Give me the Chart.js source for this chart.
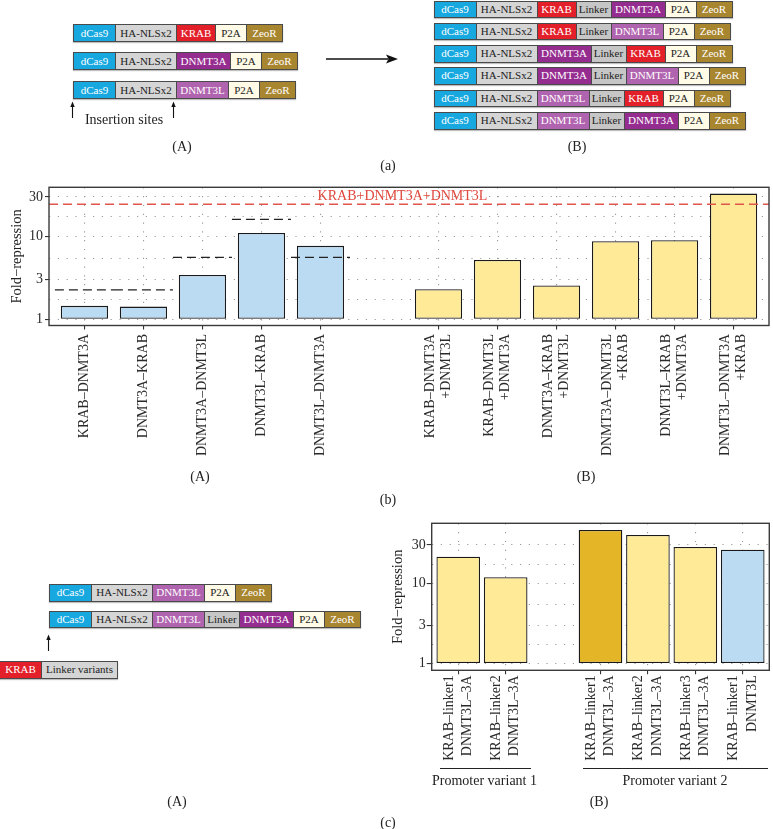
<!DOCTYPE html>
<html><head><meta charset="utf-8">
<script src="https://cdn.jsdelivr.net/npm/chart.js@4.4.1/dist/chart.umd.min.js"></script>
<style>
html,body{margin:0;padding:0;background:#fff;}
#page{position:relative;width:773px;height:829px;overflow:hidden;font-family:'Liberation Serif','Times New Roman',serif;color:#222;}
.row{position:absolute;display:flex;box-sizing:border-box;border:1px solid #4a4a4a;box-shadow:0 1px 1px rgba(0,0,0,0.25);}
.seg{box-sizing:border-box;height:100%;text-align:center;font-size:11px;white-space:nowrap;overflow:hidden;border-left:1px solid #4a4a4a;}
.seg:first-child{border-left:none;}
.lbl{position:absolute;transform:translate(-50%,-50%);font-size:14px;white-space:nowrap;color:#222;z-index:3;}
.hl{position:absolute;height:0;border-top:1.3px solid #222;z-index:3;}
canvas{position:absolute;}
svg{position:absolute;left:0;top:0;z-index:2;}
</style></head>
<body><div id="page">
<canvas id="cb" width="773" height="285" style="left:0;top:180px;width:773px;height:285px"></canvas>
<canvas id="cc" width="393" height="257" style="left:380px;top:515px;width:393px;height:257px"></canvas>
<svg width="773" height="829" viewBox="0 0 773 829">
  <line x1="326" y1="59" x2="388" y2="59" stroke="#111" stroke-width="1.3"/>
  <polygon points="386,54.5 398,59 386,63.5 388.5,59" fill="#111"/>
  <line x1="72.5" y1="118" x2="72.5" y2="105" stroke="#111" stroke-width="1.1"/>
  <polygon points="70.3,107 72.5,101.5 74.7,107" fill="#111"/>
  <line x1="173.5" y1="118" x2="173.5" y2="105" stroke="#111" stroke-width="1.1"/>
  <polygon points="171.3,107 173.5,101.5 175.7,107" fill="#111"/>
  <line x1="48.5" y1="651" x2="48.5" y2="638" stroke="#111" stroke-width="1.1"/>
  <polygon points="46.3,640 48.5,634.5 50.7,640" fill="#111"/>
</svg>
</div>
<script>
// ===================== DATA =====================
// (b) pairwise fusions (A) and fusions + third effector (B)
const pairLabels = ['KRAB–DNMT3A', 'DNMT3A–KRAB', 'DNMT3A–DNMT3L', 'DNMT3L–KRAB', 'DNMT3L–DNMT3A'];
const pairValues = [1.45, 1.42, 3.43, 11.0, 7.7];
const pairExpected = [2.26, 2.26, 5.6, 16.1, 5.6];
const tripleLabels = [['KRAB–DNMT3A', '+DNMT3L'], ['KRAB–DNMT3L', '+DNMT3A'], ['DNMT3A–KRAB', '+DNMT3L'],
                      ['DNMT3A–DNMT3L', '+KRAB'], ['DNMT3L–KRAB', '+DNMT3A'], ['DNMT3L–DNMT3A', '+KRAB']];
const tripleValues = [2.30, 5.2, 2.55, 8.75, 9.0, 32.9];
const tripleReference = 24.5;
const tripleReferenceLabel = 'KRAB+DNMT3A+DNMT3L';

// (c)(B) linker variants
const linkerLabels = [['KRAB–linker1', 'DNMT3L–3A'], ['KRAB–linker2', 'DNMT3L–3A'],
                      ['KRAB–linker1', 'DNMT3L–3A'], ['KRAB–linker2', 'DNMT3L–3A'],
                      ['KRAB–linker3', 'DNMT3L–3A'], ['KRAB–linker1', 'DNMT3L']];
const linkerValues = [21.4, 11.9, 46.0, 39.9, 28.3, 26.2];
const linkerPromoter = [1, 1, 2, 2, 2, 2];
const linkerKind = ['fusion', 'fusion', 'best', 'fusion', 'fusion', 'pair'];
const promoterNames = ['Promoter variant 1', 'Promoter variant 2'];

// log-axis ticks
const foldTicks = [1, 3, 10, 30];
const foldMinorTicks = [1.73, 5.48, 17.3, 54.8];

// construct diagrams
const singleConstructs = [
  ['dCas9', 'HA-NLSx2', 'KRAB', 'P2A', 'ZeoR'],
  ['dCas9', 'HA-NLSx2', 'DNMT3A', 'P2A', 'ZeoR'],
  ['dCas9', 'HA-NLSx2', 'DNMT3L', 'P2A', 'ZeoR']];
const fusionConstructs = [
  ['dCas9', 'HA-NLSx2', 'KRAB', 'Linker', 'DNMT3A', 'P2A', 'ZeoR'],
  ['dCas9', 'HA-NLSx2', 'KRAB', 'Linker', 'DNMT3L', 'P2A', 'ZeoR'],
  ['dCas9', 'HA-NLSx2', 'DNMT3A', 'Linker', 'KRAB', 'P2A', 'ZeoR'],
  ['dCas9', 'HA-NLSx2', 'DNMT3A', 'Linker', 'DNMT3L', 'P2A', 'ZeoR'],
  ['dCas9', 'HA-NLSx2', 'DNMT3L', 'Linker', 'KRAB', 'P2A', 'ZeoR'],
  ['dCas9', 'HA-NLSx2', 'DNMT3L', 'Linker', 'DNMT3A', 'P2A', 'ZeoR']];
const linkerConstructs = [
  ['dCas9', 'HA-NLSx2', 'DNMT3L', 'P2A', 'ZeoR'],
  ['dCas9', 'HA-NLSx2', 'DNMT3L', 'Linker', 'DNMT3A', 'P2A', 'ZeoR']];
const linkerInsert = ['KRAB', 'Linker variants'];

// ===================== STYLE / LAYOUT =====================
const F = "'Liberation Serif', 'Times New Roman', serif";
const BLUE = '#BBDBF2', YELLOW = '#FFEA98', GOLD = '#E4B526';
const GRID = '#9c9c9c';
const segStyle = {
  'dCas9': {w: 41, bg: '#17A8E0', fg: '#fff'},
  'HA-NLSx2': {w: 61, bg: '#D5D5D5', fg: '#222'},
  'KRAB': {w: 39, bg: '#E3202A', fg: '#fff'},
  'Linker': {w: 35, bg: '#C6C6C6', fg: '#222'},
  'DNMT3A': {w: 54, bg: '#952C8F', fg: '#fff'},
  'DNMT3L': {w: 52, bg: '#B063AE', fg: '#fff'},
  'P2A': {w: 31, bg: '#FFFBE7', fg: '#222'},
  'ZeoR': {w: 36, bg: '#A8852F', fg: '#fff'},
  'Linker variants': {w: 75, bg: '#D5D5D5', fg: '#222'}
};
const page = document.getElementById('page');
function drawRow(parts, x, y, h, widths) {
  const r = document.createElement('div');
  r.className = 'row';
  r.style.left = x + 'px'; r.style.top = y + 'px'; r.style.height = h + 'px';
  parts.forEach((p, i) => {
    const s = document.createElement('div');
    const st = segStyle[p];
    s.className = 'seg';
    s.style.width = ((widths && widths[i]) || st.w) + 'px';
    s.style.background = st.bg; s.style.color = st.fg;
    s.style.lineHeight = (h - 2) + 'px';
    s.textContent = p;
    r.appendChild(s);
  });
  page.appendChild(r);
}
function text(t, x, y, size, color) {
  const d = document.createElement('div');
  d.className = 'lbl'; d.textContent = t;
  d.style.left = x + 'px'; d.style.top = y + 'px';
  if (size) d.style.fontSize = size + 'px';
  if (color) d.style.color = color;
  page.appendChild(d);
}
function hline(x1, x2, y) {
  const d = document.createElement('div');
  d.className = 'hl';
  d.style.left = x1 + 'px'; d.style.top = y + 'px'; d.style.width = (x2 - x1) + 'px';
  page.appendChild(d);
}

// (a)
[24, 52, 80.5].forEach((y, i) => drawRow(singleConstructs[i], 73, y, 18));
[0.5, 22.8, 45.1, 67.4, 89.7, 112].forEach((y, i) => drawRow(fusionConstructs[i], 433.5, y, 17.5));
text('Insertion sites', 124, 120, 14);
text('(A)', 182, 147); text('(B)', 577, 147); text('(a)', 388, 166);
// (b) panel letters
text('(A)', 200, 477); text('(B)', 586, 477); text('(b)', 388, 500);
// (c)(A)
drawRow(linkerConstructs[0], 49, 584, 17.5);
drawRow(linkerConstructs[1], 49, 610.5, 17.5);
drawRow(linkerInsert, -1, 661, 17.5, [41, 76]);
text('(A)', 177, 802); text('(B)', 599, 802); text('(c)', 388, 823);

// ===================== CHART HELPERS =====================
function yAxis(min, max, o) {
  const all = foldTicks.concat(foldMinorTicks).filter(v => v >= min && v <= max).sort((a, b) => a - b);
  return {
    type: 'logarithmic', min: min, max: max,
    afterBuildTicks: ax => { ax.ticks = all.map(v => ({value: v})); },
    afterFit: ax => { ax.width = o.width; ax.paddingTop = 0; ax.paddingBottom = 0; },
    ticks: {autoSkip: false, padding: o.pad, color: '#2a2a2a', font: {family: F, size: 14},
            callback: v => foldTicks.includes(v) ? String(v) : ''},
    grid: {color: GRID, lineWidth: 1.1, drawTicks: true, tickLength: o.tl, tickWidth: 1.1,
           tickColor: c => (c.tick && foldTicks.includes(c.tick.value)) ? '#333' : 'rgba(0,0,0,0)'},
    border: {display: false, dash: [1.2, 7.6]},
    title: {display: true, text: 'Fold−repression', color: '#222', font: {family: F, size: 14.5},
            padding: {top: o.tp, bottom: 0}}
  };
}
function xAxis(min, max, slots, labels, o) {
  return {
    type: 'linear', min: min, max: max, offset: false,
    afterBuildTicks: ax => { ax.ticks = slots.map(v => ({value: v})); },
    afterFit: ax => { ax.height = o.height; ax.paddingLeft = 0; ax.paddingRight = 0; },
    ticks: {autoSkip: false, minRotation: 90, maxRotation: 90, padding: o.pad, color: '#2a2a2a',
            font: {family: F, size: 14, lineHeight: o.lh},
            callback: v => labels[slots.indexOf(v)]},
    grid: {offset: false, color: GRID, lineWidth: 1.1, tickLength: 4, tickWidth: 1.1, tickColor: '#333'},
    border: {display: false, dash: [1.2, 7.6]}
  };
}
const centerMultiline = {
  id: 'centerMultiline',
  beforeDraw(chart) {
    const sc = chart.scales.x;
    sc.getLabelItems(chart.chartArea).forEach(it => {
      if (Array.isArray(it.label) && !it._shifted) {
        it.options.translation[0] -= (it.label.length - 1) * it.font.lineHeight / 2;
        it._shifted = true;
      }
    });
  }
};
const frame = {
  id: 'frame',
  afterDatasetsDraw(chart) {
    const {ctx, chartArea: a} = chart;
    ctx.save();
    ctx.strokeStyle = '#3a3a3a'; ctx.lineWidth = 1.4;
    ctx.strokeRect(a.left, a.top, a.right - a.left, a.bottom - a.top);
    ctx.restore();
  }
};

// ===================== CHART (b) =====================
const slotsPairs = pairLabels.map((_, i) => i + 1);
const slotsTriples = tripleLabels.map((_, i) => i + pairLabels.length + 2);
const slotsB = slotsPairs.concat(slotsTriples);
const labelsB = pairLabels.concat(tripleLabels);
const expectedData = [];
pairExpected.forEach((v, i) => {
  expectedData.push({x: slotsPairs[i] - 0.5, y: v}, {x: slotsPairs[i] + 0.5, y: v}, {x: slotsPairs[i] + 0.5, y: null});
});
const bMin = 0.4, bMax = 12.6;
const refLabel = {
  id: 'refLabel',
  afterDatasetsDraw(chart) {
    const {ctx, scales} = chart;
    ctx.save();
    ctx.font = '14px ' + F;
    ctx.fillStyle = '#E0483D';
    ctx.textAlign = 'center'; ctx.textBaseline = 'middle';
    ctx.fillText(tripleReferenceLabel, scales.x.getPixelForValue(6.39), scales.y.getPixelForValue(30.8));
    ctx.restore();
  }
};
new Chart(document.getElementById('cb'), {
  type: 'bar',
  data: {datasets: [
    {label: 'pairs', data: pairValues.map((v, i) => ({x: slotsPairs[i], y: v})),
     backgroundColor: BLUE, borderColor: '#1a1a1a', borderWidth: 1.3, borderSkipped: false,
     base: 1, grouped: false, barPercentage: 0.8, categoryPercentage: 1, order: 3},
    {label: 'triples', data: tripleValues.map((v, i) => ({x: slotsTriples[i], y: v})),
     backgroundColor: YELLOW, borderColor: '#1a1a1a', borderWidth: 1.3, borderSkipped: false,
     base: 1, grouped: false, barPercentage: 0.8, categoryPercentage: 1, order: 3},
    {type: 'line', label: 'expected', data: expectedData, borderColor: '#222', borderWidth: 1.3,
     borderDash: [9, 5], pointRadius: 0, spanGaps: false, order: 1},
    {type: 'line', label: 'reference', data: [{x: bMin, y: tripleReference}, {x: bMax, y: tripleReference}],
     borderColor: '#E0564C', borderWidth: 1.4, borderDash: [9, 5], pointRadius: 0, order: 0}
  ]},
  options: {
    responsive: false, animation: false, events: [],
    layout: {padding: {top: 7.3, right: 4, left: 0, bottom: 0}},
    plugins: {legend: {display: false}, tooltip: {enabled: false}},
    scales: {
      x: xAxis(bMin, bMax, slotsB, labelsB, {height: 139.5, pad: 4.5, lh: 1.12}),
      y: yAxis(0.84, 39.2, {width: 49, pad: 2, tl: 4, tp: 8})
    }
  },
  plugins: [centerMultiline, frame, refLabel]
});

// ===================== CHART (c)(B) =====================
const slotsC = linkerPromoter.map((p, i) => i + 1 + (p - 1));
const kindColor = {fusion: YELLOW, best: GOLD, pair: BLUE};
new Chart(document.getElementById('cc'), {
  type: 'bar',
  data: {datasets: [
    {label: 'linkers', data: linkerValues.map((v, i) => ({x: slotsC[i], y: v})),
     backgroundColor: linkerKind.map(k => kindColor[k]), borderColor: '#1a1a1a', borderWidth: 1.3,
     borderSkipped: false, base: 1, barPercentage: 0.92, categoryPercentage: 1}
  ]},
  options: {
    responsive: false, animation: false, events: [],
    layout: {padding: {top: 8.3, right: 3.7, left: 0, bottom: 0}},
    plugins: {legend: {display: false}, tooltip: {enabled: false}},
    scales: {
      x: xAxis(0.44, 7.56, slotsC, linkerLabels, {height: 101.7, pad: 1, lh: 1.3}),
      y: yAxis(0.826, 55.7, {width: 51.7, pad: 1, tl: 5, tp: 9.6})
    }
  },
  plugins: [centerMultiline, frame]
});
// promoter group brackets
hline(440, 530.7, 768);
hline(582.5, 767.5, 768);
text(promoterNames[0], 484.5, 780.5);
text(promoterNames[1], 675, 780.5);
</script>
</body></html>
